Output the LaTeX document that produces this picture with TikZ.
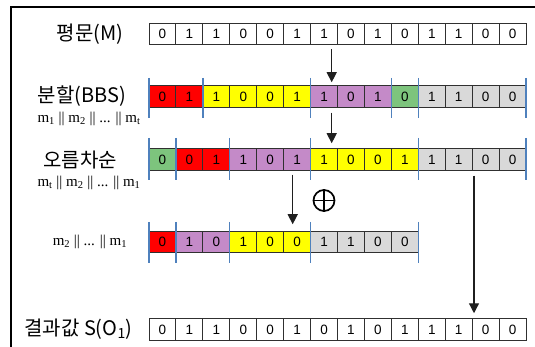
\documentclass[tikz,border=0pt]{standalone}
\usepackage{fontspec}
\setmainfont{Liberation Sans}
\newfontfamily\kor{Noto Sans CJK KR}
\newfontfamily\tms{Liberation Serif}
\usetikzlibrary{arrows.meta}
\definecolor{cR}{HTML}{FF0000}
\definecolor{cY}{HTML}{FFFF00}
\definecolor{cP}{HTML}{C48AC8}
\definecolor{cG}{HTML}{7DC47D}
\definecolor{cA}{HTML}{D9D9D9}
\definecolor{cW}{HTML}{FFFFFF}
\definecolor{sepblue}{HTML}{4F81BD}
\definecolor{cellline}{HTML}{303030}
\begin{document}
\begin{tikzpicture}[x=1pt,y=-1pt,
  cell/.style={draw=cellline, line width=1pt, minimum width=26.93pt,
    minimum height=21.5pt, inner sep=0pt, font=\fontsize{13.5}{13.5}\selectfont},
  sep/.style={draw=sepblue, line width=1.3pt},
  arr/.style={draw=black!88, line width=1.3pt, -{Triangle[width=10pt,length=10pt]}},
  korlab/.style={font=\kor\fontsize{20}{22}\selectfont, inner sep=0pt},
  mlab/.style={font=\tms\fontsize{15}{17}\selectfont, inner sep=0pt}]
\useasboundingbox (0,0) rectangle (535,347);
% frame
\draw[line width=1.2pt] (11,347) -- (11,7) -- (535,7);

% rows of bits: bit/colour
\foreach \b/\c [count=\i] in {0/cW,1/cW,1/cW,0/cW,0/cW,1/cW,1/cW,0/cW,1/cW,0/cW,1/cW,1/cW,0/cW,0/cW}
  \node[cell, fill=\c] (r1-\i) at ({149+(\i-0.5)*26.93}, 34) {\b};
\foreach \b/\c [count=\i] in {0/cR,1/cR,1/cY,0/cY,0/cY,1/cY,1/cP,0/cP,1/cP,0/cG,1/cA,1/cA,0/cA,0/cA}
  \node[cell, fill=\c] (r2-\i) at ({149+(\i-0.5)*26.93}, 96.5) {\b};
\foreach \b/\c [count=\i] in {0/cG,0/cR,1/cR,1/cP,0/cP,1/cP,1/cY,0/cY,0/cY,1/cY,1/cA,1/cA,0/cA,0/cA}
  \node[cell, fill=\c] (r3-\i) at ({149+(\i-0.5)*26.93}, 159.5) {\b};
\foreach \b/\c [count=\i] in {0/cR,1/cP,0/cP,1/cY,0/cY,0/cY,1/cA,1/cA,0/cA,0/cA}
  \node[cell, fill=\c] (r4-\i) at ({149+(\i-0.5)*26.93}, 242) {\b};
\foreach \b/\c [count=\i] in {0/cW,1/cW,1/cW,0/cW,0/cW,1/cW,0/cW,1/cW,0/cW,1/cW,1/cW,1/cW,0/cW,0/cW}
  \node[cell, fill=\c] (r5-\i) at ({149+(\i-0.5)*26.93}, 329.5) {\b};

% block separators
\foreach \k in {0,2,6,9,10,14}
  \draw[sep] ({149+\k*26.93}, 78) -- ({149+\k*26.93}, 118);
\foreach \k in {0,1,3,6,10,14}
  \draw[sep] ({149+\k*26.93}, 138) -- ({149+\k*26.93}, 180);
\foreach \k in {0,1,3,6,10}
  \draw[sep] ({149+\k*26.93}, 222) -- ({149+\k*26.93}, 263);

% labels
\node[korlab] (lM) at (90,34) {평문(M)};
\node[korlab] (lB) at (82,96) {분할(BBS)};
\node[mlab] (m1) at (89,118.5) {m\textsubscript{1} || m\textsubscript{2} || ... || m\textsubscript{t}};
\node[korlab] (lS) at (80,160) {오름차순};
\node[mlab] (m2) at (89,183) {m\textsubscript{t} || m\textsubscript{2} || ... || m\textsubscript{1}};
\node[mlab] (m3) at (90,242) {m\textsubscript{2} || ... || m\textsubscript{1}};
\node[korlab] (lR) at (78.5,329) {결과값 S(O\textsubscript{1})};

% xor sign
\node[circle, draw, line width=1.7pt, minimum size=21pt, inner sep=0pt] (xor) at (324,200.5) {};
\draw[line width=1.7pt] (xor.north) -- (xor.south) (xor.west) -- (xor.east);

% arrows
\coordinate (xa) at (331.7,0);
\coordinate (xb) at (292.7,0);
\coordinate (xc) at (474,0);
\draw[arr, shorten <=4pt, shorten >=3pt] (xa |- r1-7.south) -- (xa |- r2-7.north);
\draw[arr, shorten <=5pt, shorten >=5pt] (xa |- r2-7.south) -- (xa |- r3-7.north);
\draw[arr, shorten <=4pt, shorten >=6.5pt] (xb |- r3-6.south) -- (xb |- r4-6.north);
\draw[arr, shorten <=5pt, shorten >=5pt] (xc |- r3-13.south) -- (xc |- r5-13.north);
\end{tikzpicture}
\end{document}
